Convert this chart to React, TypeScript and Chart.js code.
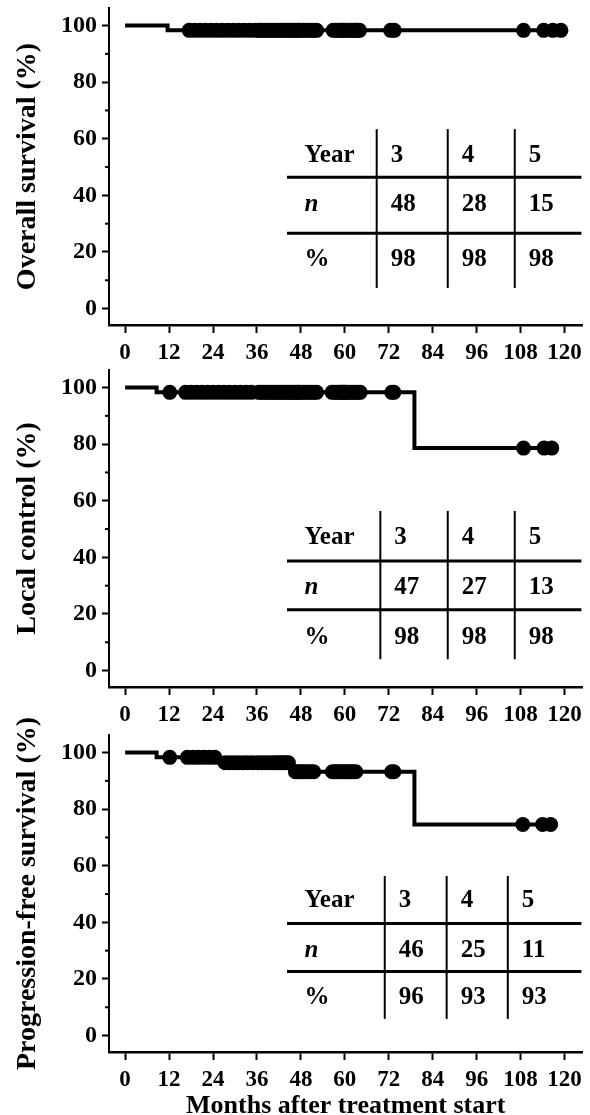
import React, { useEffect, useRef } from 'react';
import { Chart, registerables } from 'chart.js';

Chart.register(...registerables);

const FONT = "'Liberation Serif', 'Times New Roman', serif";

// ---- shared axis ticks ----
const xTicks = [0, 12, 24, 36, 48, 60, 72, 84, 96, 108, 120];
const yTicks = [0, 20, 40, 60, 80, 100];
const yMinorTicks = [10, 30, 50, 70, 90];
const tableYears = ['3', '4', '5'];

// ---- Overall survival ----
const osEventTimes = [0, 11.6];
const osSurvival = [100, 98.3];
const osCensorTimes = [
  17.5, 19, 20.5, 22, 23.5, 25, 26.5, 28, 29.5, 31, 32.5, 34, 35.5,
  36.5, 37, 37.8, 38.5, 39.2, 39.8, 40.5, 41.2, 41.8, 42.4, 43, 43.6, 44.2, 44.8, 45.4, 46, 46.5, 47, 47.4, 47.8,
  48.6, 49.3, 50, 50.8, 51.5, 52.3, 56.8, 57.5, 58.2, 58.8, 59.3, 59.7, 59.9,
  60.5, 61.2, 61.8, 62.4, 62.8, 63, 63.5, 64, 72.5, 73.5,
  108.8, 114.3, 116.8, 119,
];
const osAtRisk = [48, 28, 15];
const osRate = [98, 98, 98];

// ---- Local control ----
const lcEventTimes = [0, 8.6, 79];
const lcSurvival = [100, 98.3, 78.6];
const lcCensorTimes = [
  12.2,
  16.5, 18, 19.5, 21, 22.5, 24, 25.5, 27, 28.5, 30, 31.5, 33, 34.5,
  36.5, 37, 37.8, 38.5, 39.2, 39.8, 40.5, 41.2, 41.8, 42.4, 43, 43.6, 44.2, 44.8, 45.4, 46, 46.5, 47, 47.4, 47.8,
  48.6, 49.3, 50, 50.8, 51.5, 52.3, 56.5, 57.2, 57.9, 58.5, 59, 59.4, 59.7, 59.9,
  60.4, 61, 61.7, 62.3, 63, 63.6, 64.2, 72.8, 73.4,
  108.8, 114.4, 116.5,
];
const lcAtRisk = [47, 27, 13];
const lcRate = [98, 98, 98];

// ---- Progression-free survival ----
const pfsEventTimes = [0, 8.6, 25.6, 45.5, 79];
const pfsSurvival = [100, 98.3, 96.4, 93.2, 74.6];
const pfsCensorTimes = [
  12.2,
  17, 18.5, 20, 21.5, 23, 24.5,
  27.3, 28.5, 29.8, 31, 32.3, 33.5, 34.8, 36.2, 37.3, 38.3, 39.5, 40.5, 41.3, 42, 42.7, 43.4, 44, 44.6,
  46.5, 47.2, 47.8, 48.5, 49.2, 50, 50.8, 51.5, 56.6, 57.3, 58, 58.7, 59.3, 59.8,
  60.4, 61, 61.7, 62.3, 63, 72.8, 73.4,
  108.6, 114, 116.2,
];
const pfsAtRisk = [46, 25, 11];
const pfsRate = [96, 93, 93];

// ---- panel layout (positions / styles only) ----
const panels = [
  {
    title: 'Overall survival (%)',
    times: osEventTimes, surv: osSurvival, censor: osCensorTimes, atRisk: osAtRisk, rate: osRate,
    canvasTop: 0, canvasH: 362, chartTop: 8, chartBottom: 325,
    table: { top: 63.4, bottom: 7.3, h1: 46.4, h2: 26.6, rows: [53.9, 36.8, 17.3], left: 44.2, right: 124.6, cols: [68.7, 88.1, 106.4] },
    xTitle: false,
  },
  {
    title: 'Local control (%)',
    times: lcEventTimes, surv: lcSurvival, censor: lcCensorTimes, atRisk: lcAtRisk, rate: lcRate,
    canvasTop: 362, canvasH: 366, chartTop: 8, chartBottom: 325,
    table: { top: 56.4, bottom: 4.0, h1: 38.7, h2: 21.5, rows: [47.1, 29.2, 11.5], left: 44.2, right: 124.6, cols: [69.7, 88.1, 106.4] },
    xTitle: false,
  },
  {
    title: 'Progression-free survival (%)',
    times: pfsEventTimes, surv: pfsSurvival, censor: pfsCensorTimes, atRisk: pfsAtRisk, rate: pfsRate,
    canvasTop: 712, canvasH: 416, chartTop: 23, chartBottom: 340,
    table: { top: 56.4, bottom: 5.9, h1: 39.6, h2: 22.6, rows: [47.6, 30.2, 13.4], left: 44.2, right: 124.6, cols: [70.9, 87.8, 104.5] },
    xTitle: true,
  },
];

function survAt(times: number[], surv: number[], t: number) {
  let v = surv[0];
  for (let i = 0; i < times.length; i++) if (times[i] <= t) v = surv[i];
  return v;
}

function buildConfig(p: any) {
  const lastT = Math.max(...p.censor);
  const stepPts = p.times.map((t: number, i: number) => ({ x: t, y: p.surv[i] }));
  stepPts.push({ x: lastT, y: p.surv[p.surv.length - 1] });
  const censorPts = p.censor.map((t: number) => ({ x: t, y: survAt(p.times, p.surv, t) }));

  const tablePlugin = {
    id: 'kmTable',
    afterDraw(chart: any) {
      const { ctx, scales } = chart;
      const xs = scales.x, ys = scales.y;
      const tb = p.table;
      ctx.save();
      // minor y ticks
      ctx.strokeStyle = '#000';
      ctx.lineWidth = 2;
      yMinorTicks.forEach((v) => {
        const yy = ys.getPixelForValue(v);
        ctx.beginPath();
        ctx.moveTo(chart.chartArea.left - 4, yy);
        ctx.lineTo(chart.chartArea.left, yy);
        ctx.stroke();
      });
      // table lines
      ctx.lineWidth = 3;
      [tb.h1, tb.h2].forEach((v: number) => {
        const yy = ys.getPixelForValue(v);
        ctx.beginPath();
        ctx.moveTo(xs.getPixelForValue(tb.left), yy);
        ctx.lineTo(xs.getPixelForValue(tb.right), yy);
        ctx.stroke();
      });
      ctx.lineWidth = 2;
      tb.cols.forEach((c: number) => {
        const xx = xs.getPixelForValue(c);
        ctx.beginPath();
        ctx.moveTo(xx, ys.getPixelForValue(tb.top));
        ctx.lineTo(xx, ys.getPixelForValue(tb.bottom));
        ctx.stroke();
      });
      // texts
      ctx.fillStyle = '#000';
      ctx.textBaseline = 'middle';
      ctx.textAlign = 'left';
      const rowLabels = ['Year', 'n', '%'];
      const rowVals = [tableYears, p.atRisk.map(String), p.rate.map(String)];
      rowLabels.forEach((lab, r) => {
        const yy = ys.getPixelForValue(tb.rows[r]);
        ctx.font = (r === 1 ? 'italic bold ' : 'bold ') + '25px ' + FONT;
        ctx.fillText(lab, xs.getPixelForValue(tb.left + 4.8), yy);
        ctx.font = 'bold 25px ' + FONT;
        rowVals[r].forEach((v: string, c: number) => {
          ctx.fillText(v, xs.getPixelForValue(tb.cols[c]) + 14, yy);
        });
      });
      ctx.restore();
    },
  };

  const xAxisH = p.canvasH - p.chartBottom;

  return {
    type: 'line',
    data: {
      datasets: [
        {
          data: censorPts,
          showLine: false,
          pointRadius: 7.5,
          pointBackgroundColor: '#000',
          pointBorderColor: '#000',
          pointBorderWidth: 0,
          order: 0,
        },
        {
          data: stepPts,
          stepped: 'before',
          borderColor: '#000',
          borderWidth: 4,
          pointRadius: 0,
          fill: false,
          order: 1,
        },
      ],
    },
    options: {
      animation: false,
      responsive: false,
      maintainAspectRatio: false,
      events: [],
      layout: { padding: { top: p.chartTop, right: 7, left: 0, bottom: 0 } },
      plugins: { legend: { display: false }, tooltip: { enabled: false } },
      scales: {
        x: {
          type: 'linear',
          min: -4.4,
          max: 124.9,
          afterBuildTicks: (s: any) => { s.ticks = xTicks.map((v) => ({ value: v })); },
          afterFit: (s: any) => { s.height = xAxisH; s.paddingLeft = 0; s.paddingRight = 0; s.paddingTop = 0; s.paddingBottom = 0; },
          grid: { display: true, drawOnChartArea: false, drawTicks: true, tickLength: 8, tickColor: '#000', tickWidth: 2 },
          border: { display: true, color: '#000', width: 2.5 },
          ticks: { color: '#000', font: { family: FONT, size: 23, weight: 'bold' }, padding: 6, maxRotation: 0, autoSkip: false },
          title: {
            display: p.xTitle,
            text: 'Months after treatment start',
            color: '#000',
            font: { family: FONT, size: 26, weight: 'bold' },
            padding: { top: 0, bottom: 6 },
          },
        },
        y: {
          type: 'linear',
          min: -5.8,
          max: 106.2,
          afterBuildTicks: (s: any) => { s.ticks = yTicks.map((v) => ({ value: v })); },
          afterFit: (s: any) => { s.width = 109; s.paddingLeft = 0; s.paddingRight = 0; s.paddingTop = 0; s.paddingBottom = 0; },
          grid: { display: true, drawOnChartArea: false, drawTicks: true, tickLength: 7, tickColor: '#000', tickWidth: 2 },
          border: { display: true, color: '#000', width: 2 },
          ticks: { color: '#000', font: { family: FONT, size: 24, weight: 'bold' }, padding: 5 },
          title: {
            display: true,
            text: p.title,
            color: '#000',
            font: { family: FONT, size: 28, weight: 'bold' },
            padding: { top: 11, bottom: 0 },
          },
        },
      },
    },
    plugins: [tablePlugin],
  };
}

function Panel({ p }: { p: any }) {
  const ref = useRef<HTMLCanvasElement | null>(null);
  useEffect(() => {
    if (!ref.current) return;
    const chart = new Chart(ref.current, buildConfig(p) as any);
    return () => chart.destroy();
  }, [p]);
  return (
    <canvas
      ref={ref}
      width={590}
      height={p.canvasH}
      style={{ position: 'absolute', left: 0, top: p.canvasTop, width: 590, height: p.canvasH }}
    />
  );
}

export default function App() {
  return (
    <div style={{ position: 'absolute', left: 0, top: 0, width: 590, height: 1115, overflow: 'hidden', background: '#fff' }}>
      {panels.map((p, i) => (
        <Panel key={i} p={p} />
      ))}
    </div>
  );
}
